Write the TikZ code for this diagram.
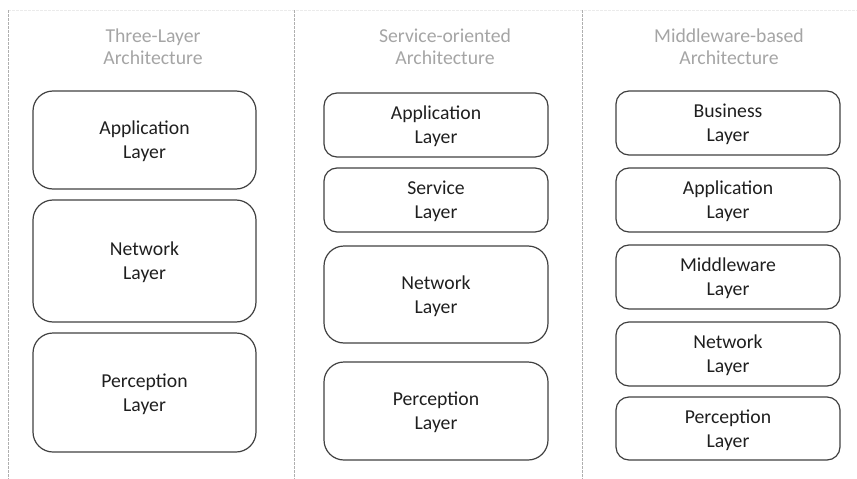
\documentclass[tikz,border=0pt]{standalone}
\usepackage{fontspec}
\setmainfont{Carlito}
\begin{document}
\begin{tikzpicture}[x=1pt,y=-1pt,
  layerbox/.style={draw=boxline, line width=1.2pt, rounded corners=#1, text=black!88,
    font=\fontsize{19.7}{24}\selectfont, align=center, text depth=0pt},
  layerbox/.default=13pt,
  coltitle/.style={text=titlegray, font=\fontsize{19.7}{22}\selectfont, align=center},
  divider/.style={draw=divgray, line width=0.8pt, dash pattern=on 2.5pt off 1.5pt},
  topline/.style={draw=black!8, line width=0.8pt, dash pattern=on 2.5pt off 1.5pt}]
\definecolor{boxline}{RGB}{64,64,64}
\definecolor{titlegray}{RGB}{165,165,165}
\definecolor{divgray}{RGB}{175,175,175}
\useasboundingbox (0,0) rectangle (857,479);

% frame lines separating the three columns
\coordinate (t0) at (8,10);  \coordinate (b0) at (8,479);
\coordinate (t1) at (294,10); \coordinate (b1) at (294,479);
\coordinate (t2) at (582,10); \coordinate (b2) at (582,479);
\coordinate (tr) at (857,10);
\draw[topline] (t0) -- (tr);
\draw[divider] (t0) -- (b0);
\draw[divider] (t1) -- (b1);
\draw[divider] (t2) -- (b2);

% column titles
\node[coltitle] (h1) at (153,47) {Three-Layer\\Architecture};
\node[coltitle] (h2) at (445,47) {Service-oriented\\Architecture};
\node[coltitle] (h3) at (729,47) {Middleware-based\\Architecture};

% three-layer architecture
\node[layerbox=20pt, minimum width=223pt, minimum height=98pt]  (a1) at (144.5,140) {Application\\Layer};
\node[layerbox=20pt, minimum width=223pt, minimum height=122pt] (a2) at (144.5,261) {Network\\Layer};
\node[layerbox=20pt, minimum width=223pt, minimum height=119pt] (a3) at (144.5,392.5) {Perception\\Layer};

% service-oriented architecture
\node[layerbox, minimum width=224pt, minimum height=64pt] (s1) at (436,125) {Application\\Layer};
\node[layerbox, minimum width=224pt, minimum height=64pt] (s2) at (436,200) {Service\\Layer};
\node[layerbox=20pt, minimum width=224pt, minimum height=97pt] (s3) at (436,294.5) {Network\\Layer};
\node[layerbox=20pt, minimum width=224pt, minimum height=98pt] (s4) at (436,411) {Perception\\Layer};

% middleware-based architecture
\node[layerbox, minimum width=224pt, minimum height=64pt] (m1) at (728,123) {Business\\Layer};
\node[layerbox, minimum width=224pt, minimum height=64pt] (m2) at (728,200) {Application\\Layer};
\node[layerbox, minimum width=224pt, minimum height=64pt] (m3) at (728,277) {Middleware\\Layer};
\node[layerbox, minimum width=224pt, minimum height=64pt] (m4) at (728,354) {Network\\Layer};
\node[layerbox, minimum width=224pt, minimum height=63pt] (m5) at (728,428.5) {Perception\\Layer};
\end{tikzpicture}
\end{document}
